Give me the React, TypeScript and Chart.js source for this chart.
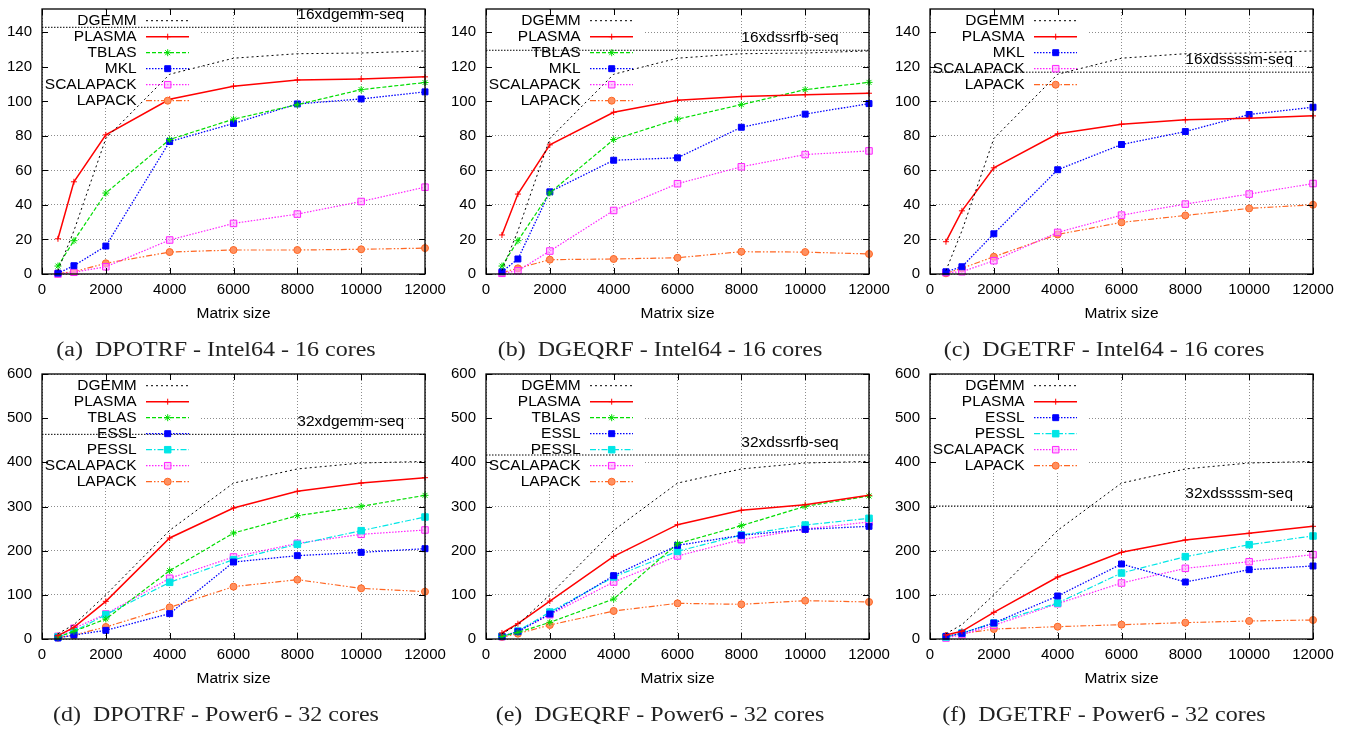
import React, { useEffect, useRef } from 'react';
import { Chart, registerables } from 'chart.js';

Chart.register(...registerables);

const SANS = "'Liberation Sans', Arial, Helvetica, sans-serif";
const SERIF = "'Liberation Serif', 'Times New Roman', serif";

// ---------------- data ----------------
const MATRIX_SIZES = [500, 1000, 2000, 4000, 6000, 8000, 10000, 12000];
const X_TICK_STEP = 2000;

const DGEMM_INTEL = [2, 25, 78.5, 115.7, 125, 127.6, 128, 129.2];
const DGEMM_POWER6 = [12, 32.5, 100, 246, 353, 385, 398.5, 402];

// (a) DPOTRF - Intel64
const A_PLASMA = [20.4, 53.4, 80.6, 101.2, 108.8, 112.4, 113, 114.2];
const A_TBLAS = [4.6, 19.3, 46.9, 77.9, 89.7, 98.1, 106.8, 110.9];
const A_MKL = [0.5, 4.8, 16.2, 76.7, 87.2, 98.5, 101.4, 105.5];
const A_SCALAPACK = [0, 1, 4.2, 19.7, 29.3, 34.7, 42, 50.3];
const A_LAPACK = [0.4, 1.3, 6.2, 12.7, 13.9, 13.9, 14.3, 15];
const A_SEQ = 142.9;

// (b) DGEQRF - Intel64
const B_PLASMA = [22.6, 46.3, 74.8, 93.7, 100.7, 102.8, 103.9, 104.7];
const B_TBLAS = [4.6, 19.3, 47, 77.9, 89.7, 98.1, 106.8, 111];
const B_MKL = [1.3, 8.7, 47.6, 65.9, 67.3, 85, 92.6, 98.7];
const B_SCALAPACK = [0.4, 1.9, 13.3, 36.8, 52.3, 62.1, 69.2, 71.3];
const B_LAPACK = [0.8, 3.3, 8.3, 8.7, 9.4, 12.9, 12.7, 11.6];
const B_SEQ = 129.6;

// (c) DGETRF - Intel64
const C_PLASMA = [18.7, 36.6, 61.5, 81.2, 86.8, 89.3, 90.2, 91.6];
const C_MKL = [1.3, 4.2, 23.3, 60.4, 75, 82.5, 92.4, 96.6];
const C_SCALAPACK = [0.8, 1.3, 7.7, 24.1, 34.1, 40.5, 46.3, 52.4];
const C_LAPACK = [0.4, 3.3, 10, 22.9, 29.9, 33.9, 38, 40.1];
const C_SEQ = 116.9;

// (d) DPOTRF - Power6
const D_PLASMA = [7.5, 26.4, 85.3, 228.7, 296.6, 334.3, 353.2, 365.3];
const D_TBLAS = [4.5, 17.4, 45.3, 154.7, 240, 279.2, 300.4, 325.3];
const D_ESSL = [2.3, 9, 19.6, 57.4, 174.3, 188.7, 196.2, 204.5];
const D_PESSL = [4.5, 17.4, 55.1, 128.3, 179.6, 214.3, 245.3, 276.2];
const D_SCALAPACK = [6, 24.2, 56.6, 137.4, 185.7, 216.6, 237, 246.8];
const D_LAPACK = [3, 9, 27.2, 71.7, 118.5, 134.3, 114.7, 107.2];
const D_SEQ = 463.4;

// (e) DGEQRF - Power6
const E_PLASMA = [13.6, 34.7, 86, 187.2, 258.9, 291.3, 304.2, 325.3];
const E_TBLAS = [6, 15, 37.7, 90.6, 215.8, 256.6, 300.4, 323.8];
const E_ESSL = [6, 16.6, 56.6, 143.4, 212, 234.7, 248.3, 255.1];
const E_PESSL = [6, 18, 61, 140.4, 198.5, 235.5, 258.1, 273.2];
const E_SCALAPACK = [5.3, 17.4, 55.1, 129, 188, 225, 249, 265];
const E_LAPACK = [4.5, 12, 31.7, 63.4, 80.8, 78.5, 86.8, 83.8];
const E_SEQ = 416.6;

// (f) DGETRF - Power6
const F_PLASMA = [9, 17.4, 60.4, 140.4, 196.2, 224.2, 239.2, 255.1];
const F_ESSL = [6, 12.8, 36.2, 97.4, 169.8, 129, 157, 165.3];
const F_PESSL = [4.5, 13.6, 36.2, 81.5, 149.4, 186.4, 213.6, 233.2];
const F_SCALAPACK = [2.3, 9.8, 30.9, 80, 126.8, 160, 175, 191];
const F_LAPACK = [6, 12, 22.6, 27.9, 32.5, 37, 40.8, 43];
const F_SEQ = 301;

// ---------------- styles ----------------
type Style = {
  color: string;
  dash: number[];
  width: number;
  point: string | null;
  radius: number;
  fill: string;
};

const STYLES: Record<string, Style> = {
  DGEMM: { color: '#000000', dash: [2, 3], width: 1, point: null, radius: 0, fill: '#000000' },
  PLASMA: { color: '#ff0000', dash: [], width: 1.5, point: 'cross', radius: 3, fill: '#ff0000' },
  TBLAS: { color: '#00dd00', dash: [4, 2], width: 1.2, point: 'star', radius: 3.5, fill: '#00dd00' },
  MKL: { color: '#0000ff', dash: [1.5, 1.5], width: 1.3, point: 'rect', radius: 4.2, fill: '#0000ff' },
  ESSL: { color: '#0000ff', dash: [1.5, 1.5], width: 1.3, point: 'rect', radius: 4.2, fill: '#0000ff' },
  PESSL: { color: '#00e6e6', dash: [6, 2, 1.5, 2], width: 1.2, point: 'rect', radius: 4.6, fill: '#00e6e6' },
  SCALAPACK: { color: '#ff22ff', dash: [1.5, 1.5], width: 1.2, point: 'rect', radius: 4.6, fill: 'rgba(255,170,255,0.6)' },
  LAPACK: { color: '#ff6622', dash: [6, 2, 1.5, 2, 1.5, 2], width: 1.2, point: 'circle', radius: 3.5, fill: '#ff9060' },
};

type PanelDef = {
  left: number;
  top: number;
  ymax: number;
  ystep: number;
  seq: number;
  seqLabel: string;
  caption: string;
  series: [string, number[]][];
};

const CANVAS_W = 470;
const CANVAS_H = 340;
const PLOT_H = 265;
const Y_AXIS_W = 42;
const PAD_TOP = 9;

const PANELS: PanelDef[] = [
  {
    left: 0, top: 0, ymax: 153.5, ystep: 20, seq: A_SEQ, seqLabel: '16xdgemm-seq',
    caption: '(a)  DPOTRF - Intel64 - 16 cores',
    series: [['DGEMM', DGEMM_INTEL], ['PLASMA', A_PLASMA], ['TBLAS', A_TBLAS], ['MKL', A_MKL], ['SCALAPACK', A_SCALAPACK], ['LAPACK', A_LAPACK]],
  },
  {
    left: 444, top: 0, ymax: 153.5, ystep: 20, seq: B_SEQ, seqLabel: '16xdssrfb-seq',
    caption: '(b)  DGEQRF - Intel64 - 16 cores',
    series: [['DGEMM', DGEMM_INTEL], ['PLASMA', B_PLASMA], ['TBLAS', B_TBLAS], ['MKL', B_MKL], ['SCALAPACK', B_SCALAPACK], ['LAPACK', B_LAPACK]],
  },
  {
    left: 888, top: 0, ymax: 153.5, ystep: 20, seq: C_SEQ, seqLabel: '16xdssssm-seq',
    caption: '(c)  DGETRF - Intel64 - 16 cores',
    series: [['DGEMM', DGEMM_INTEL], ['PLASMA', C_PLASMA], ['MKL', C_MKL], ['SCALAPACK', C_SCALAPACK], ['LAPACK', C_LAPACK]],
  },
  {
    left: 0, top: 365, ymax: 600, ystep: 100, seq: D_SEQ, seqLabel: '32xdgemm-seq',
    caption: '(d)  DPOTRF - Power6 - 32 cores',
    series: [['DGEMM', DGEMM_POWER6], ['PLASMA', D_PLASMA], ['TBLAS', D_TBLAS], ['ESSL', D_ESSL], ['PESSL', D_PESSL], ['SCALAPACK', D_SCALAPACK], ['LAPACK', D_LAPACK]],
  },
  {
    left: 444, top: 365, ymax: 600, ystep: 100, seq: E_SEQ, seqLabel: '32xdssrfb-seq',
    caption: '(e)  DGEQRF - Power6 - 32 cores',
    series: [['DGEMM', DGEMM_POWER6], ['PLASMA', E_PLASMA], ['TBLAS', E_TBLAS], ['ESSL', E_ESSL], ['PESSL', E_PESSL], ['SCALAPACK', E_SCALAPACK], ['LAPACK', E_LAPACK]],
  },
  {
    left: 888, top: 365, ymax: 600, ystep: 100, seq: F_SEQ, seqLabel: '32xdssssm-seq',
    caption: '(f)  DGETRF - Power6 - 32 cores',
    series: [['DGEMM', DGEMM_POWER6], ['PLASMA', F_PLASMA], ['ESSL', F_ESSL], ['PESSL', F_PESSL], ['SCALAPACK', F_SCALAPACK], ['LAPACK', F_LAPACK]],
  },
];

// legend geometry (relative to plot frame)
const LEG_TEXT_X = 94.7;
const LEG_LINE_X0 = 104;
const LEG_LINE_X1 = 147;
const LEG_MARK_X = 125.7;
const LEG_FIRST = 11.7;
const LEG_ROW = 16;
const LEG_BOX_W = 156;

function drawMarker(ctx: CanvasRenderingContext2D, st: Style, x: number, y: number) {
  if (!st.point) return;
  const r = st.radius;
  ctx.save();
  ctx.setLineDash([]);
  ctx.lineWidth = 1;
  ctx.strokeStyle = st.color;
  ctx.fillStyle = st.fill;
  ctx.beginPath();
  if (st.point === 'cross') {
    ctx.moveTo(x - r, y); ctx.lineTo(x + r, y);
    ctx.moveTo(x, y - r); ctx.lineTo(x, y + r);
    ctx.stroke();
  } else if (st.point === 'star') {
    ctx.moveTo(x - r, y); ctx.lineTo(x + r, y);
    ctx.moveTo(x, y - r); ctx.lineTo(x, y + r);
    const d = r * Math.SQRT1_2;
    ctx.moveTo(x - d, y - d); ctx.lineTo(x + d, y + d);
    ctx.moveTo(x - d, y + d); ctx.lineTo(x + d, y - d);
    ctx.stroke();
  } else if (st.point === 'rect') {
    const s = r * Math.SQRT1_2;
    ctx.rect(x - s, y - s, 2 * s, 2 * s);
    ctx.fill();
    ctx.stroke();
  } else if (st.point === 'circle') {
    ctx.arc(x, y, r, 0, Math.PI * 2);
    ctx.fill();
    ctx.stroke();
  }
  ctx.restore();
}

function makeDecor(def: PanelDef) {
  return {
    id: 'gnuplotDecor',
    beforeDatasetsDraw(chart: any) {
      const { ctx, chartArea } = chart;
      const n = def.series.length;
      ctx.save();
      ctx.fillStyle = '#ffffff';
      ctx.fillRect(chartArea.left + 1, chartArea.top + 1, LEG_BOX_W, LEG_FIRST + (n - 1) * LEG_ROW + 4.5);
      ctx.restore();
    },
    afterDatasetsDraw(chart: any) {
      const { ctx, chartArea } = chart;
      const xs = chart.scales.x;
      const ys = chart.scales.y;
      const L = chartArea.left;
      const T = chartArea.top;
      ctx.save();
      // legend
      ctx.font = `15.5px ${SANS}`;
      ctx.textBaseline = 'middle';
      def.series.forEach(([name], i) => {
        const st = STYLES[name];
        const y = T + LEG_FIRST + i * LEG_ROW;
        ctx.fillStyle = '#000';
        ctx.textAlign = 'right';
        ctx.fillText(name, L + LEG_TEXT_X, y);
        ctx.beginPath();
        ctx.strokeStyle = st.color;
        ctx.lineWidth = st.width;
        ctx.setLineDash(st.dash);
        ctx.moveTo(L + LEG_LINE_X0, y);
        ctx.lineTo(L + LEG_LINE_X1, y);
        ctx.stroke();
        ctx.setLineDash([]);
        drawMarker(ctx, st, L + LEG_MARK_X, y);
      });
      // seq label
      ctx.fillStyle = '#000';
      ctx.textAlign = 'left';
      ctx.fillText(def.seqLabel, xs.getPixelForValue(8000), ys.getPixelForValue(def.seq) - 12.7);
      // inner tick marks
      ctx.strokeStyle = '#000';
      ctx.lineWidth = 1;
      ctx.setLineDash([]);
      ctx.beginPath();
      xs.ticks.forEach((t: any) => {
        const px = Math.round(xs.getPixelForValue(t.value)) + 0.5;
        ctx.moveTo(px, chartArea.bottom); ctx.lineTo(px, chartArea.bottom - 6);
        ctx.moveTo(px, chartArea.top); ctx.lineTo(px, chartArea.top + 6);
      });
      ys.ticks.forEach((t: any) => {
        const py = Math.round(ys.getPixelForValue(t.value)) + 0.5;
        ctx.moveTo(chartArea.left, py); ctx.lineTo(chartArea.left + 6, py);
        ctx.moveTo(chartArea.right, py); ctx.lineTo(chartArea.right - 6, py);
      });
      ctx.stroke();
      // frame
      ctx.lineWidth = 1.3;
      ctx.strokeRect(chartArea.left, chartArea.top, chartArea.right - chartArea.left, chartArea.bottom - chartArea.top);
      ctx.restore();
    },
  };
}

function buildConfig(def: PanelDef): any {
  const datasets: any[] = def.series.map(([name, values]) => {
    const st = STYLES[name];
    return {
      label: name,
      data: MATRIX_SIZES.map((x, i) => ({ x, y: values[i] })),
      borderColor: st.color,
      borderDash: st.dash,
      borderWidth: st.width,
      pointStyle: st.point || 'circle',
      pointRadius: st.point ? st.radius : 0,
      pointHoverRadius: st.point ? st.radius : 0,
      pointBorderColor: st.color,
      pointBackgroundColor: st.fill,
      pointBorderWidth: 1,
      fill: false,
      tension: 0,
      clip: false,
    };
  });
  datasets.push({
    label: def.seqLabel,
    data: [{ x: 0, y: def.seq }, { x: 12000, y: def.seq }],
    borderColor: '#000000',
    borderDash: [1.5, 1.5],
    borderWidth: 1,
    pointRadius: 0,
    fill: false,
  });
  const gridStyle = { color: '#8c8c8c', lineWidth: 1, drawTicks: false };
  return {
    type: 'line',
    data: { datasets },
    plugins: [makeDecor(def)],
    options: {
      responsive: false,
      animation: false,
      events: [],
      layout: { padding: { left: 0, right: CANVAS_W - Y_AXIS_W - 383, top: PAD_TOP, bottom: 0 } },
      plugins: { legend: { display: false }, tooltip: { enabled: false }, title: { display: false } },
      scales: {
        x: {
          type: 'linear',
          min: 0,
          max: 12000,
          grid: gridStyle,
          border: { display: false, dash: [1, 2] },
          ticks: {
            stepSize: X_TICK_STEP,
            autoSkip: false,
            maxRotation: 0,
            padding: 7,
            color: '#000',
            font: { family: SANS, size: 15 },
            callback: (v: any) => String(v),
          },
          title: {
            display: true,
            text: 'Matrix size',
            color: '#000',
            font: { family: SANS, size: 15.5 },
            padding: { top: 0, bottom: 17.4 },
          },
          afterFit: (s: any) => {
            s.height = CANVAS_H - PAD_TOP - PLOT_H;
            s.paddingLeft = 0;
            s.paddingRight = 0;
          },
        },
        y: {
          type: 'linear',
          min: 0,
          max: def.ymax,
          grid: gridStyle,
          border: { display: false, dash: [1, 2] },
          ticks: {
            stepSize: def.ystep,
            padding: 10,
            color: '#000',
            font: { family: SANS, size: 15 },
            callback: (v: any) => String(v),
          },
          afterBuildTicks: (s: any) => {
            s.ticks = s.ticks.filter((t: any) => Math.abs(t.value / def.ystep - Math.round(t.value / def.ystep)) < 1e-6);
          },
          afterFit: (s: any) => {
            s.width = Y_AXIS_W;
            s.paddingTop = 0;
            s.paddingBottom = 0;
          },
        },
      },
    },
  };
}

function Panel({ def }: { def: PanelDef }) {
  const ref = useRef<HTMLCanvasElement | null>(null);
  useEffect(() => {
    if (!ref.current) return;
    const chart = new Chart(ref.current, buildConfig(def));
    return () => chart.destroy();
  }, [def]);
  const frameLeft = def.left + Y_AXIS_W;
  const frameTop = def.top + PAD_TOP;
  const capCx = frameLeft + 174;
  const capCy = frameTop + 340;
  return (
    <>
      <div style={{ position: 'absolute', left: def.left, top: def.top, width: CANVAS_W, height: CANVAS_H }}>
        <canvas ref={ref} width={CANVAS_W} height={CANVAS_H} style={{ display: 'block' }} />
      </div>
      <div
        style={{
          position: 'absolute',
          left: capCx - 220,
          width: 440,
          top: capCy - 12,
          height: 24,
          lineHeight: '24px',
          textAlign: 'center',
          whiteSpace: 'pre',
          fontFamily: SERIF,
          fontSize: 20,
          color: '#222',
          transform: 'scaleX(1.2)',
          transformOrigin: 'center',
        }}
      >
        {def.caption}
      </div>
    </>
  );
}

export default function App() {
  return (
    <div
      style={{
        position: 'fixed',
        left: 0,
        top: 0,
        width: 1361,
        height: 729,
        background: '#ffffff',
        overflow: 'hidden',
      }}
    >
      {PANELS.map((p, i) => (
        <Panel key={i} def={p} />
      ))}
    </div>
  );
}
